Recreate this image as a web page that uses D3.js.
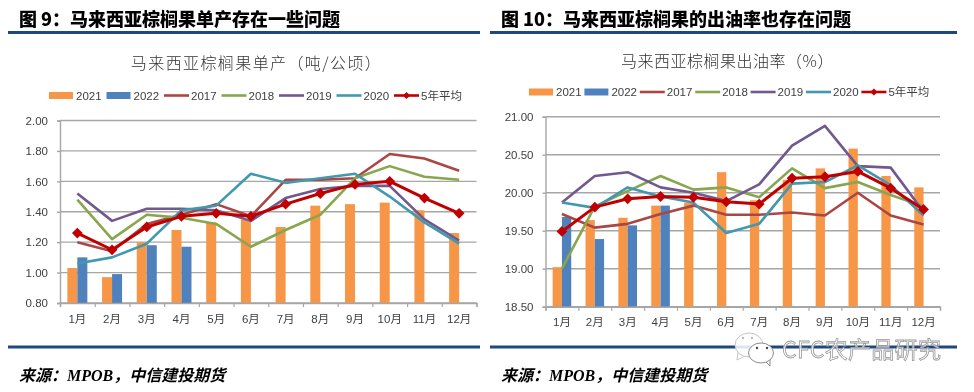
<!DOCTYPE html>
<html>
<head>
<meta charset="utf-8">
<script src="https://cdn.jsdelivr.net/npm/d3@7"></script>
<style>
  html, body { margin: 0; padding: 0; background: #fff; }
  svg { display: block; filter: blur(0.35px); }
  text { font-family: "Noto Sans CJK SC", "Liberation Sans", sans-serif; }
  .tick-label, .legend-label { font-family: "Liberation Sans", "Noto Sans CJK SC", sans-serif; fill: #404040; font-size: 11.5px; }
</style>
</head>
<body>
<svg id="chart" width="974" height="392"></svg>
<script>
const MONTHS = ['1月','2月','3月','4月','5月','6月','7月','8月','9月','10月','11月','12月'];
const SERIES_NAMES = ['2021','2022','2017','2018','2019','2020','5年平均'];

// left: yield
const yield_2021 = [1.03,0.97,1.20,1.28,1.33,1.35,1.30,1.44,1.45,1.46,1.41,1.26];
const yield_2022 = [1.10,0.99,1.18,1.17];
const yield_2017 = [1.20,1.14,1.32,1.38,1.45,1.37,1.61,1.61,1.62,1.78,1.75,1.67];
const yield_2018 = [1.48,1.22,1.38,1.36,1.32,1.17,1.28,1.38,1.62,1.70,1.63,1.61];
const yield_2019 = [1.52,1.34,1.42,1.42,1.41,1.34,1.49,1.55,1.57,1.57,1.35,1.21];
const yield_2020 = [1.06,1.10,1.19,1.41,1.44,1.65,1.59,1.62,1.65,1.50,1.33,1.19];
const yield_avg  = [1.26,1.15,1.30,1.37,1.39,1.37,1.45,1.52,1.58,1.60,1.49,1.39];
const yield_ticks = [0.8,1.0,1.2,1.4,1.6,1.8,2.0];

// right: oil extraction rate
const oer_2021 = [19.02,19.64,19.67,19.83,19.87,20.27,19.90,20.17,20.32,20.58,20.22,20.07];
const oer_2022 = [19.68,19.39,19.57,19.83];
const oer_2017 = [19.72,19.54,19.59,19.72,19.83,19.71,19.71,19.74,19.70,20.00,19.70,19.58];
const oer_2018 = [19.00,19.82,20.02,20.22,20.04,20.07,19.94,20.32,20.06,20.14,19.97,19.82];
const oer_2019 = [19.87,20.22,20.27,20.07,20.00,19.89,20.11,20.62,20.88,20.35,20.33,19.75];
const oer_2020 = [19.87,19.80,20.07,19.95,19.87,19.47,19.59,20.12,20.14,20.36,20.10,19.70];
const oer_avg  = [19.49,19.81,19.92,19.95,19.94,19.88,19.85,20.19,20.21,20.28,20.06,19.78];
const oer_ticks = [18.5,19,19.5,20,20.5,21];

const COLORS = {bar21: '#f79646', bar22: '#4f81bd', l17: '#aa4643', l18: '#89a54e', l19: '#71588f', l20: '#4198af', avg: '#c00000'};
const RULE = '#1f497d';

const svg = d3.select('#chart');

function panel(opt) {
  const g = svg.append('g');
  const x = d3.scaleBand().domain(MONTHS).range([opt.left, opt.right]);
  const xTicks = d3.scaleLinear().domain([0, 12]).range([opt.left, opt.right]);
  const y = d3.scaleLinear().domain(opt.domain).range([opt.bottom, opt.top]);
  const barW = opt.barW;
  const mid = m => x(m) + x.bandwidth() / 2;

  // header + footer rules
  g.append('text').attr('x', opt.headX).attr('y', 26).attr('font-size', 18).attr('font-weight', 900)
    .attr('fill', '#000').text(opt.head);
  g.append('rect').attr('x', opt.ruleX[0]).attr('width', opt.ruleX[1] - opt.ruleX[0]).attr('y', 31).attr('height', 3).attr('fill', RULE);
  g.append('rect').attr('x', opt.ruleX[0]).attr('width', opt.ruleX[1] - opt.ruleX[0]).attr('y', 345.5).attr('height', 3).attr('fill', RULE);

  const src = g.append('text').attr('x', opt.headX).attr('y', 381).attr('font-size', 16).attr('font-weight', 700)
    .attr('font-style', 'italic').attr('fill', '#000');
  src.append('tspan').text('来源\uFF1A');
  src.append('tspan').style('font-family', '"Liberation Serif", serif').text('MPOB');
  src.append('tspan').text('\uFF0C中信建投期货');

  g.append('text').attr('x', opt.titleX).attr('y', opt.titleY).attr('text-anchor', 'middle')
    .attr('font-size', 16).attr('font-weight', 300).attr('fill', '#333').attr('letter-spacing', opt.titleSpace).text(opt.title);

  // grid
  g.append('g').selectAll('line').data(opt.ticks).join('line')
    .attr('x1', opt.left).attr('x2', opt.right)
    .attr('y1', d => y(d)).attr('y2', d => y(d))
    .attr('stroke', '#a6a6a6').attr('stroke-width', 1.4);

  // bars
  g.append('g').selectAll('rect').data(opt.s2021).join('rect')
    .attr('x', (d, i) => mid(MONTHS[i]) - barW).attr('width', barW)
    .attr('y', d => y(d)).attr('height', d => opt.bottom - y(d)).attr('fill', COLORS.bar21);
  g.append('g').selectAll('rect').data(opt.s2022).join('rect')
    .attr('x', (d, i) => mid(MONTHS[i])).attr('width', barW)
    .attr('y', d => y(d)).attr('height', d => opt.bottom - y(d)).attr('fill', COLORS.bar22);

  // axes
  const yAxis = g.append('g').attr('transform', `translate(${opt.left},0)`)
    .call(d3.axisLeft(y).tickValues(opt.ticks).tickFormat(d3.format('.2f')).tickSize(3).tickPadding(opt.yPad));
  yAxis.selectAll('text').attr('class', 'tick-label');
  yAxis.selectAll('line').attr('stroke', '#a6a6a6').attr('stroke-width', 1.4);
  yAxis.select('.domain').attr('stroke', '#a6a6a6').attr('stroke-width', 1.4);

  const xAxis = g.append('g').attr('transform', `translate(0,${opt.bottom})`)
    .call(d3.axisBottom(xTicks).ticks(12).tickFormat('').tickSize(4));
  xAxis.selectAll('line').attr('stroke', '#a6a6a6').attr('stroke-width', 1.2);
  xAxis.select('.domain').attr('stroke', '#a6a6a6').attr('stroke-width', 1.4);

  const xLabels = g.append('g').attr('transform', `translate(0,${opt.bottom})`)
    .call(d3.axisBottom(x).tickSize(0).tickPadding(opt.xPad));
  xLabels.select('.domain').remove();
  xLabels.selectAll('text').attr('class', 'tick-label');

  // lines
  const line = d3.line().x((d, i) => mid(MONTHS[i])).y(d => y(d));
  [[opt.s2017, COLORS.l17], [opt.s2018, COLORS.l18], [opt.s2019, COLORS.l19], [opt.s2020, COLORS.l20]]
    .forEach(([vals, c]) => {
      g.append('path').attr('d', line(vals)).attr('fill', 'none').attr('stroke', c)
        .attr('stroke-width', 2.6).attr('stroke-linejoin', 'round');
    });
  g.append('path').attr('d', line(opt.sAvg)).attr('fill', 'none').attr('stroke', COLORS.avg)
    .attr('stroke-width', 3).attr('stroke-linejoin', 'round');
  const marker = d3.symbol().type(d3.symbolSquare).size(58);
  g.append('g').selectAll('path').data(opt.sAvg).join('path')
    .attr('d', marker)
    .attr('transform', (d, i) => `translate(${mid(MONTHS[i])},${y(d)}) rotate(45)`)
    .attr('fill', COLORS.avg);

  // legend
  const keyColors = [COLORS.bar21, COLORS.bar22, COLORS.l17, COLORS.l18, COLORS.l19, COLORS.l20, COLORS.avg];
  const lg = g.append('g').selectAll('g').data(SERIES_NAMES).join('g')
    .attr('transform', (d, i) => `translate(${opt.legX + i * opt.legStep},${opt.legY})`);
  lg.filter((d, i) => i < 2).append('rect').attr('x', 0).attr('y', -3.5).attr('width', 24).attr('height', 7)
    .attr('fill', (d, i) => keyColors[i]);
  lg.filter((d, i) => i >= 2).append('line').attr('x1', 0).attr('x2', 25)
    .attr('stroke', d => keyColors[SERIES_NAMES.indexOf(d)]).attr('stroke-width', 2.6);
  lg.filter((d, i) => i === 6).append('path').attr('d', d3.symbol().type(d3.symbolSquare).size(26))
    .attr('transform', 'translate(12.5,0) rotate(45)').attr('fill', COLORS.avg);
  lg.append('text').attr('class', 'legend-label').attr('x', 27).attr('y', 4).text(d => d);
}

panel({
  head: '图 9\uFF1A马来西亚棕榈果单产存在一些问题', headX: 19, ruleX: [8, 480],
  title: '马来西亚棕榈果单产\uFF08吨/公顷\uFF09', titleX: 256.5, titleY: 69, titleSpace: 1.4,
  left: 60, right: 476.5, top: 120.5, bottom: 303,
  domain: [0.8, 2.0], ticks: yield_ticks, barW: 10, yPad: 9, xPad: 12,
  s2021: yield_2021, s2022: yield_2022, s2017: yield_2017, s2018: yield_2018, s2019: yield_2019, s2020: yield_2020, sAvg: yield_avg,
  legX: 49, legStep: 57.5, legY: 95.5
});

panel({
  head: '图 10\uFF1A马来西亚棕榈果的出油率也存在问题', headX: 501, ruleX: [490, 957],
  title: '马来西亚棕榈果出油率\uFF08%\uFF09', titleX: 727.5, titleY: 67, titleSpace: 0.5,
  left: 545.5, right: 940, top: 116.7, bottom: 306.7,
  domain: [18.5, 21], ticks: oer_ticks, barW: 9.3, yPad: 9, xPad: 11,
  s2021: oer_2021, s2022: oer_2022, s2017: oer_2017, s2018: oer_2018, s2019: oer_2019, s2020: oer_2020, sAvg: oer_avg,
  legX: 529, legStep: 55.4, legY: 92
});

// watermark: wechat logo + account name
const wm = svg.append('g');
wm.append('path').attr('d', 'M738 352 L737 360 L745 356').attr('fill', '#fff').attr('stroke', '#c4c4c4');
wm.append('ellipse').attr('cx', 749).attr('cy', 345).attr('rx', 14).attr('ry', 12)
  .attr('fill', 'rgba(255,255,255,0.85)').attr('stroke', '#c4c4c4');
wm.append('path').attr('d', 'M765 361 L770 366 L770 358').attr('fill', '#fff').attr('stroke', '#8c8c8c');
wm.append('ellipse').attr('cx', 761).attr('cy', 353).attr('rx', 12.5).attr('ry', 10)
  .attr('fill', '#fff').attr('stroke', '#8c8c8c');
wm.selectAll('circle.eye').data([[743, 338, '#bbb'], [752, 338, '#bbb'], [757, 348, '#444'], [767, 348, '#444']]).join('circle')
  .attr('cx', d => d[0]).attr('cy', d => d[1]).attr('r', 1.2).attr('fill', d => d[2]);
wm.append('text').attr('x', 782).attr('y', 358).attr('font-size', 23).attr('letter-spacing', 0.3)
  .attr('fill', 'rgba(255,255,255,0.75)').attr('stroke', '#999').attr('stroke-width', 0.8)
  .text('CFC农产品研究');
</script>
</body>
</html>
